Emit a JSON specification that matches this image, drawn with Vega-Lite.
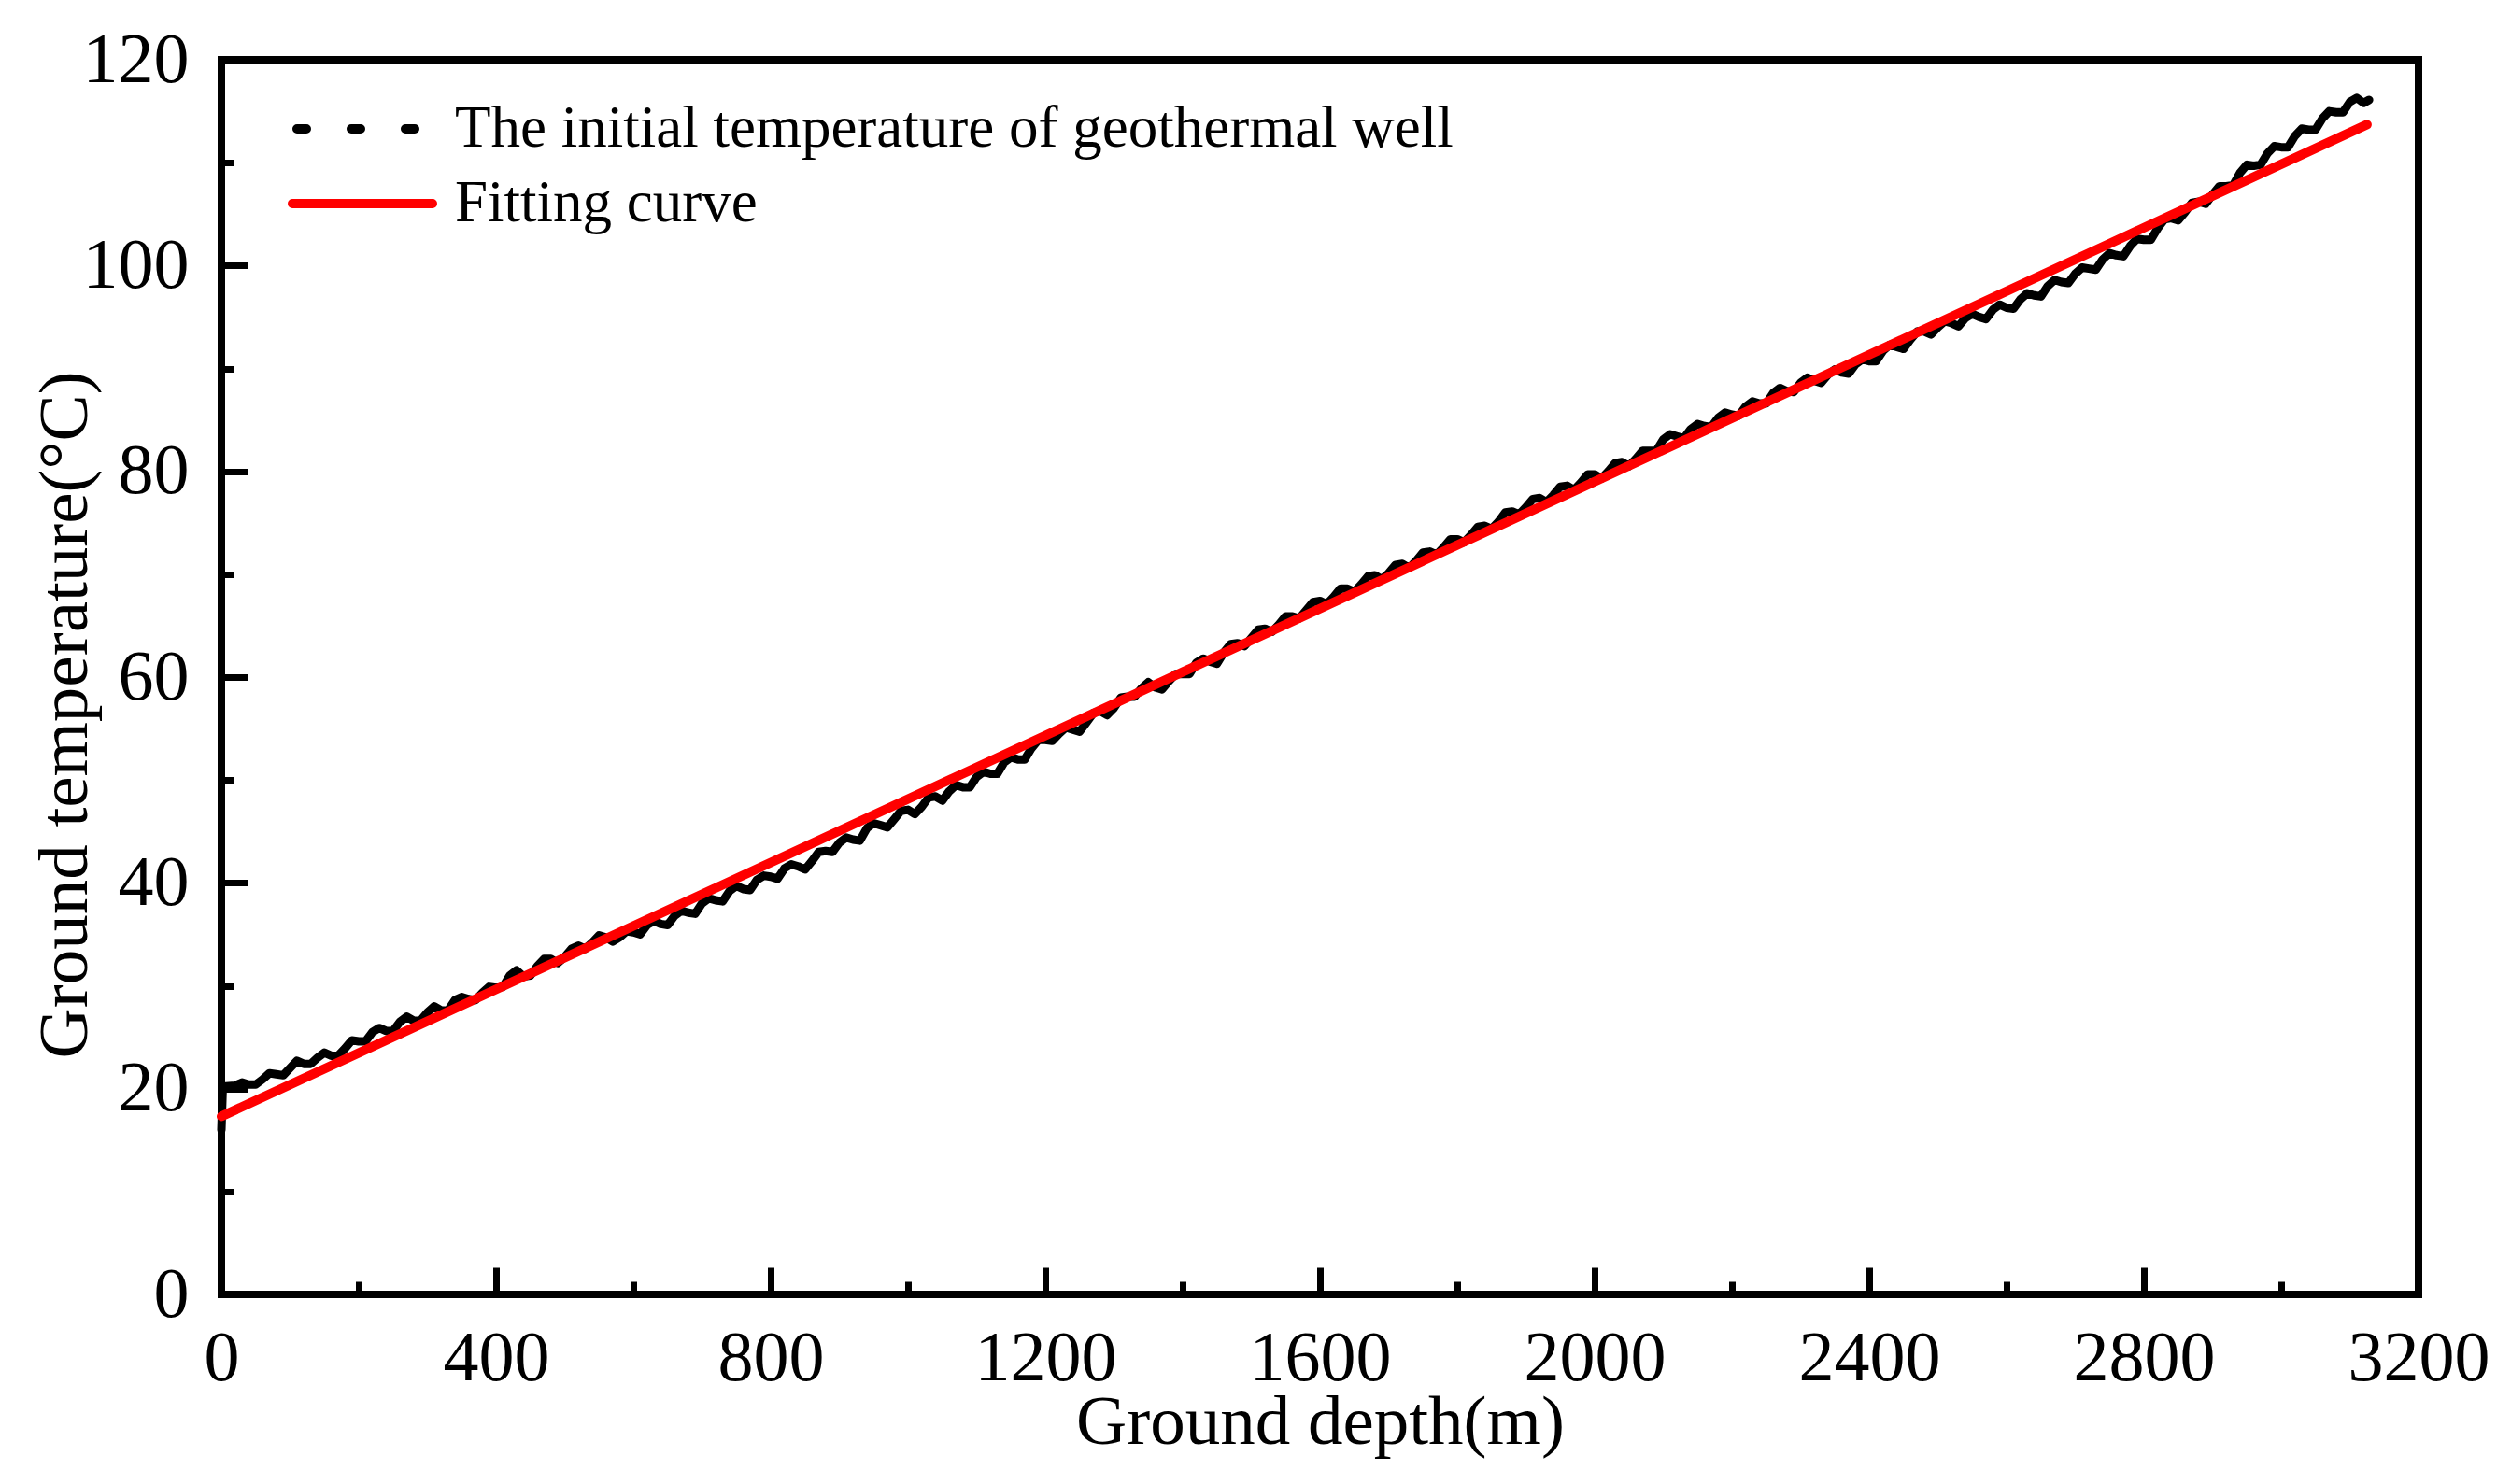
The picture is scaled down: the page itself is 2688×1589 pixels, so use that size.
{
  "$schema": "https://vega.github.io/schema/vega-lite/v6.json",
  "width": 2352,
  "height": 1322,
  "autosize": "none",
  "padding": {"left": 237, "top": 64, "right": 99, "bottom": 203},
  "background": "white",
  "config": {
    "view": {"stroke": "black", "strokeWidth": 8},
    "font": "Liberation Serif"
  },
  "datasets": {
    "well": [
      {"depth": 0, "temp": 16.0}, {"depth": 2, "temp": 20.2}, {"depth": 20, "temp": 20.3}, {"depth": 40, "temp": 20.4},
      {"depth": 60, "temp": 20.9}, {"depth": 80, "temp": 21.4}, {"depth": 100, "temp": 22.0}, {"depth": 120, "temp": 22.4},
      {"depth": 140, "temp": 23.0}, {"depth": 160, "temp": 23.2}, {"depth": 180, "temp": 23.9}, {"depth": 200, "temp": 24.6},
      {"depth": 220, "temp": 25.5}, {"depth": 240, "temp": 25.6}, {"depth": 260, "temp": 26.5}, {"depth": 280, "temp": 26.6},
      {"depth": 300, "temp": 27.4}, {"depth": 320, "temp": 27.6}, {"depth": 340, "temp": 28.6}, {"depth": 360, "temp": 28.7},
      {"depth": 380, "temp": 29.3}, {"depth": 400, "temp": 29.8}, {"depth": 420, "temp": 31.0}, {"depth": 440, "temp": 30.9},
      {"depth": 460, "temp": 31.9}, {"depth": 480, "temp": 32.6}, {"depth": 500, "temp": 32.8}, {"depth": 520, "temp": 33.9},
      {"depth": 540, "temp": 34.2}, {"depth": 560, "temp": 34.7}, {"depth": 580, "temp": 34.7}, {"depth": 600, "temp": 35.2},
      {"depth": 620, "temp": 35.9}, {"depth": 640, "temp": 36.0}, {"depth": 660, "temp": 36.8}, {"depth": 680, "temp": 37.1},
      {"depth": 700, "temp": 38.0}, {"depth": 720, "temp": 38.3}, {"depth": 740, "temp": 39.2}, {"depth": 760, "temp": 39.4},
      {"depth": 780, "temp": 40.3}, {"depth": 800, "temp": 40.6}, {"depth": 820, "temp": 41.4}, {"depth": 840, "temp": 41.6},
      {"depth": 860, "temp": 42.1}, {"depth": 880, "temp": 43.1}, {"depth": 900, "temp": 43.9}, {"depth": 920, "temp": 44.2},
      {"depth": 940, "temp": 45.3}, {"depth": 960, "temp": 45.6}, {"depth": 980, "temp": 46.2}, {"depth": 1000, "temp": 47.1},
      {"depth": 1020, "temp": 47.4}, {"depth": 1040, "temp": 48.4}, {"depth": 1060, "temp": 48.9}, {"depth": 1080, "temp": 49.3},
      {"depth": 1100, "temp": 50.3}, {"depth": 1120, "temp": 50.6}, {"depth": 1140, "temp": 51.7}, {"depth": 1160, "temp": 52.0},
      {"depth": 1180, "temp": 53.1}, {"depth": 1200, "temp": 53.9}, {"depth": 1220, "temp": 54.5}, {"depth": 1240, "temp": 54.9},
      {"depth": 1260, "temp": 55.6}, {"depth": 1280, "temp": 56.7}, {"depth": 1300, "temp": 57.0}, {"depth": 1320, "temp": 58.1},
      {"depth": 1340, "temp": 58.9}, {"depth": 1360, "temp": 59.0}, {"depth": 1380, "temp": 59.6}, {"depth": 1400, "temp": 60.3},
      {"depth": 1420, "temp": 61.4}, {"depth": 1440, "temp": 61.5}, {"depth": 1460, "temp": 62.4}, {"depth": 1480, "temp": 63.3},
      {"depth": 1500, "temp": 63.8}, {"depth": 1520, "temp": 64.7}, {"depth": 1540, "temp": 65.1}, {"depth": 1560, "temp": 65.9},
      {"depth": 1580, "temp": 66.5}, {"depth": 1600, "temp": 67.4}, {"depth": 1620, "temp": 67.8}, {"depth": 1640, "temp": 68.6},
      {"depth": 1660, "temp": 69.0}, {"depth": 1680, "temp": 69.9}, {"depth": 1700, "temp": 70.1}, {"depth": 1720, "temp": 71.0},
      {"depth": 1740, "temp": 71.3}, {"depth": 1760, "temp": 72.2}, {"depth": 1780, "temp": 72.6}, {"depth": 1800, "temp": 73.4},
      {"depth": 1820, "temp": 73.8}, {"depth": 1840, "temp": 74.7}, {"depth": 1860, "temp": 75.1}, {"depth": 1880, "temp": 76.1},
      {"depth": 1900, "temp": 76.5}, {"depth": 1920, "temp": 77.4}, {"depth": 1940, "temp": 77.7}, {"depth": 1960, "temp": 78.6},
      {"depth": 1980, "temp": 78.9}, {"depth": 2000, "temp": 79.7}, {"depth": 2020, "temp": 80.0}, {"depth": 2040, "temp": 80.9},
      {"depth": 2060, "temp": 81.2}, {"depth": 2080, "temp": 82.0}, {"depth": 2100, "temp": 83.1}, {"depth": 2120, "temp": 83.4},
      {"depth": 2140, "temp": 84.1}, {"depth": 2160, "temp": 84.4}, {"depth": 2180, "temp": 85.2}, {"depth": 2200, "temp": 85.5},
      {"depth": 2220, "temp": 86.3}, {"depth": 2240, "temp": 86.6}, {"depth": 2260, "temp": 87.6}, {"depth": 2280, "temp": 87.8},
      {"depth": 2300, "temp": 88.6}, {"depth": 2320, "temp": 88.8}, {"depth": 2340, "temp": 89.4}, {"depth": 2360, "temp": 89.6},
      {"depth": 2380, "temp": 90.4}, {"depth": 2400, "temp": 90.7}, {"depth": 2420, "temp": 91.7}, {"depth": 2440, "temp": 92.1},
      {"depth": 2460, "temp": 92.8}, {"depth": 2480, "temp": 93.6}, {"depth": 2500, "temp": 94.0}, {"depth": 2520, "temp": 94.4},
      {"depth": 2540, "temp": 94.9}, {"depth": 2560, "temp": 95.0}, {"depth": 2580, "temp": 95.7}, {"depth": 2600, "temp": 95.9},
      {"depth": 2620, "temp": 96.7}, {"depth": 2640, "temp": 97.1}, {"depth": 2660, "temp": 98.0}, {"depth": 2680, "temp": 98.4},
      {"depth": 2700, "temp": 99.2}, {"depth": 2720, "temp": 99.7}, {"depth": 2740, "temp": 100.6}, {"depth": 2760, "temp": 101.0},
      {"depth": 2780, "temp": 101.9}, {"depth": 2800, "temp": 102.5}, {"depth": 2820, "temp": 103.6}, {"depth": 2840, "temp": 104.6},
      {"depth": 2860, "temp": 105.2}, {"depth": 2880, "temp": 106.2}, {"depth": 2900, "temp": 106.9}, {"depth": 2920, "temp": 107.7},
      {"depth": 2940, "temp": 109.0}, {"depth": 2960, "temp": 109.7}, {"depth": 2980, "temp": 110.9}, {"depth": 3000, "temp": 111.5},
      {"depth": 3020, "temp": 112.6}, {"depth": 3040, "temp": 113.2}, {"depth": 3060, "temp": 114.3}, {"depth": 3080, "temp": 114.9},
      {"depth": 3100, "temp": 115.9}, {"depth": 3110, "temp": 116.3}, {"depth": 3120, "temp": 115.8}, {"depth": 3128, "temp": 116.1},
      {"depth": 30, "temp": 20.6}, {"depth": 50, "temp": 20.4}, {"depth": 70, "temp": 21.5}, {"depth": 90, "temp": 21.3},
      {"depth": 110, "temp": 22.7}, {"depth": 130, "temp": 22.4}, {"depth": 150, "temp": 23.5}, {"depth": 170, "temp": 23.2},
      {"depth": 190, "temp": 24.7}, {"depth": 210, "temp": 24.6}, {"depth": 230, "temp": 25.9}, {"depth": 250, "temp": 25.6},
      {"depth": 270, "temp": 27.0}, {"depth": 290, "temp": 26.6}, {"depth": 310, "temp": 28.0}, {"depth": 330, "temp": 27.6},
      {"depth": 350, "temp": 28.9}, {"depth": 370, "temp": 28.6}, {"depth": 390, "temp": 29.9}, {"depth": 410, "temp": 29.9},
      {"depth": 430, "temp": 31.5}, {"depth": 450, "temp": 31.0}, {"depth": 470, "temp": 32.6}, {"depth": 490, "temp": 32.2},
      {"depth": 510, "temp": 33.6}, {"depth": 530, "temp": 33.6}, {"depth": 550, "temp": 34.9}, {"depth": 570, "temp": 34.3},
      {"depth": 590, "temp": 35.3}, {"depth": 610, "temp": 35.0}, {"depth": 630, "temp": 36.3}, {"depth": 650, "temp": 35.9},
      {"depth": 670, "temp": 37.3}, {"depth": 690, "temp": 37.0}, {"depth": 710, "temp": 38.5}, {"depth": 730, "temp": 38.2},
      {"depth": 750, "temp": 39.7}, {"depth": 770, "temp": 39.3}, {"depth": 790, "temp": 40.7}, {"depth": 810, "temp": 40.4},
      {"depth": 830, "temp": 41.8}, {"depth": 850, "temp": 41.3}, {"depth": 870, "temp": 43.0}, {"depth": 890, "temp": 43.0},
      {"depth": 910, "temp": 44.4}, {"depth": 930, "temp": 44.1}, {"depth": 950, "temp": 45.8}, {"depth": 970, "temp": 45.4},
      {"depth": 990, "temp": 47.0}, {"depth": 1010, "temp": 46.7}, {"depth": 1030, "temp": 48.3}, {"depth": 1050, "temp": 48.0},
      {"depth": 1070, "temp": 49.5}, {"depth": 1090, "temp": 49.3}, {"depth": 1110, "temp": 50.8}, {"depth": 1130, "temp": 50.6},
      {"depth": 1150, "temp": 52.2}, {"depth": 1170, "temp": 52.0}, {"depth": 1190, "temp": 53.9}, {"depth": 1210, "temp": 53.8},
      {"depth": 1230, "temp": 55.1}, {"depth": 1250, "temp": 54.7}, {"depth": 1270, "temp": 56.5}, {"depth": 1290, "temp": 56.3},
      {"depth": 1310, "temp": 58.0}, {"depth": 1330, "temp": 58.1}, {"depth": 1350, "temp": 59.5}, {"depth": 1370, "temp": 58.8},
      {"depth": 1390, "temp": 60.3}, {"depth": 1410, "temp": 60.3}, {"depth": 1430, "temp": 61.8}, {"depth": 1450, "temp": 61.3},
      {"depth": 1470, "temp": 63.2}, {"depth": 1490, "temp": 63.0}, {"depth": 1510, "temp": 64.6}, {"depth": 1530, "temp": 64.4},
      {"depth": 1550, "temp": 65.9}, {"depth": 1570, "temp": 65.7}, {"depth": 1590, "temp": 67.3}, {"depth": 1610, "temp": 67.1},
      {"depth": 1630, "temp": 68.6}, {"depth": 1650, "temp": 68.3}, {"depth": 1670, "temp": 69.8}, {"depth": 1690, "temp": 69.5},
      {"depth": 1710, "temp": 70.9}, {"depth": 1730, "temp": 70.6}, {"depth": 1750, "temp": 72.1}, {"depth": 1770, "temp": 71.9},
      {"depth": 1790, "temp": 73.4}, {"depth": 1810, "temp": 73.1}, {"depth": 1830, "temp": 74.6}, {"depth": 1850, "temp": 74.4},
      {"depth": 1870, "temp": 76.0}, {"depth": 1890, "temp": 75.8}, {"depth": 1910, "temp": 77.3}, {"depth": 1930, "temp": 77.0},
      {"depth": 1950, "temp": 78.5}, {"depth": 1970, "temp": 78.2}, {"depth": 1990, "temp": 79.7}, {"depth": 2010, "temp": 79.3},
      {"depth": 2030, "temp": 80.8}, {"depth": 2050, "temp": 80.5}, {"depth": 2070, "temp": 82.0}, {"depth": 2090, "temp": 82.0},
      {"depth": 2110, "temp": 83.6}, {"depth": 2130, "temp": 83.2}, {"depth": 2150, "temp": 84.6}, {"depth": 2170, "temp": 84.3},
      {"depth": 2190, "temp": 85.7}, {"depth": 2210, "temp": 85.4}, {"depth": 2230, "temp": 86.8}, {"depth": 2250, "temp": 86.6},
      {"depth": 2270, "temp": 88.1}, {"depth": 2290, "temp": 87.7}, {"depth": 2310, "temp": 89.1}, {"depth": 2330, "temp": 88.6},
      {"depth": 2350, "temp": 89.9}, {"depth": 2370, "temp": 89.5}, {"depth": 2390, "temp": 90.9}, {"depth": 2410, "temp": 90.7},
      {"depth": 2430, "temp": 92.3}, {"depth": 2450, "temp": 91.9}, {"depth": 2470, "temp": 93.6}, {"depth": 2490, "temp": 93.3},
      {"depth": 2510, "temp": 94.6}, {"depth": 2530, "temp": 94.1}, {"depth": 2550, "temp": 95.3}, {"depth": 2570, "temp": 94.8},
      {"depth": 2590, "temp": 96.2}, {"depth": 2610, "temp": 95.8}, {"depth": 2630, "temp": 97.3}, {"depth": 2650, "temp": 97.0},
      {"depth": 2670, "temp": 98.6}, {"depth": 2690, "temp": 98.3}, {"depth": 2710, "temp": 99.8}, {"depth": 2730, "temp": 99.6},
      {"depth": 2750, "temp": 101.2}, {"depth": 2770, "temp": 100.9}, {"depth": 2790, "temp": 102.6}, {"depth": 2810, "temp": 102.5},
      {"depth": 2830, "temp": 104.5}, {"depth": 2850, "temp": 104.4}, {"depth": 2870, "temp": 106.1}, {"depth": 2890, "temp": 106.0},
      {"depth": 2910, "temp": 107.7}, {"depth": 2930, "temp": 107.8}, {"depth": 2950, "temp": 109.8}, {"depth": 2970, "temp": 109.8},
      {"depth": 2990, "temp": 111.6}, {"depth": 3010, "temp": 111.5}, {"depth": 3030, "temp": 113.3}, {"depth": 3050, "temp": 113.2},
      {"depth": 3070, "temp": 115.0}, {"depth": 3090, "temp": 114.9}
    ],
    "fit": [
      {"depth": 0, "temp": 17.3},
      {"depth": 3125, "temp": 113.7}
    ]
  },
  "encoding": {
    "x": {
      "field": "depth",
      "type": "quantitative",
      "scale": {"domain": [0, 3200], "nice": false, "zero": false},
      "axis": {
        "title": "Ground depth(m)",
        "titleFont": "Liberation Serif",
        "titleFontSize": 75,
        "titleFontWeight": "normal",
        "titleColor": "black",
        "titleX": 1176,
        "titleY": 159,
        "titleAlign": "center",
        "titleBaseline": "alphabetic",
        "values": [0, 200, 400, 600, 800, 1000, 1200, 1400, 1600, 1800, 2000, 2200, 2400, 2600, 2800, 3000, 3200],
        "labelExpr": "datum.value % 400 === 0 ? datum.label : ''",
        "format": "d",
        "labelFont": "Liberation Serif",
        "labelFontSize": 76,
        "labelColor": "black",
        "labelBaseline": "alphabetic",
        "labelFlush": false,
        "labelOverlap": false,
        "labelPadding": 120,
        "domain": false,
        "grid": false,
        "tickColor": "black",
        "tickWidth": 7,
        "tickSize": {"condition": {"test": "datum.value % 400 === 0", "value": -29}, "value": -14}
      }
    },
    "y": {
      "field": "temp",
      "type": "quantitative",
      "scale": {"domain": [0, 120], "nice": false},
      "axis": {
        "title": "Ground temperature(°C)",
        "titleFont": "Liberation Serif",
        "titleFontSize": 75,
        "titleFontWeight": "normal",
        "titleColor": "black",
        "titleAngle": 270,
        "titleX": -145,
        "titleY": 701,
        "titleAlign": "center",
        "titleBaseline": "alphabetic",
        "values": [0, 10, 20, 30, 40, 50, 60, 70, 80, 90, 100, 110, 120],
        "labelExpr": "datum.value % 20 === 0 ? datum.label : ''",
        "labelFont": "Liberation Serif",
        "labelFontSize": 76,
        "labelColor": "black",
        "labelAlign": "right",
        "labelBaseline": "middle",
        "labelFlush": false,
        "labelOverlap": false,
        "labelPadding": 63,
        "domain": false,
        "grid": false,
        "tickColor": "black",
        "tickWidth": 7,
        "tickSize": {"condition": {"test": "datum.value % 20 === 0", "value": -28}, "value": -13}
      }
    }
  },
  "layer": [
    {
      "data": {"name": "well"},
      "mark": {"type": "line", "strokeWidth": 9, "strokeJoin": "round", "strokeCap": "round"},
      "encoding": {
        "color": {
          "datum": "The initial temperature of geothermal well",
          "type": "nominal",
          "scale": {
            "domain": ["The initial temperature of geothermal well", "Fitting curve"],
            "range": ["#000000", "#ff0000"]
          },
          "legend": {
            "title": null,
            "orient": "none",
            "legendX": 71,
            "legendY": 34,
            "padding": 0,
            "symbolType": "stroke",
            "symbolSize": 22500,
            "symbolStrokeWidth": 10,
            "labelFont": "Liberation Serif",
            "labelFontSize": 63,
            "labelColor": "black",
            "labelLimit": 3000,
            "labelOffset": 19,
            "clipHeight": 80,
            "rowPadding": 0,
            "encode": {
              "symbols": {
                "update": {
                  "strokeCap": {"value": "round"},
                  "strokeDash": {"signal": "datum.value === 'Fitting curve' ? [400, 0] : [10, 48]"},
                  "strokeDashOffset": {"value": -5}
                }
              }
            }
          }
        }
      }
    },
    {
      "data": {"name": "fit"},
      "mark": {"type": "line", "strokeWidth": 10, "strokeCap": "round"},
      "encoding": {
        "color": {"datum": "Fitting curve", "type": "nominal"}
      }
    }
  ]
}
